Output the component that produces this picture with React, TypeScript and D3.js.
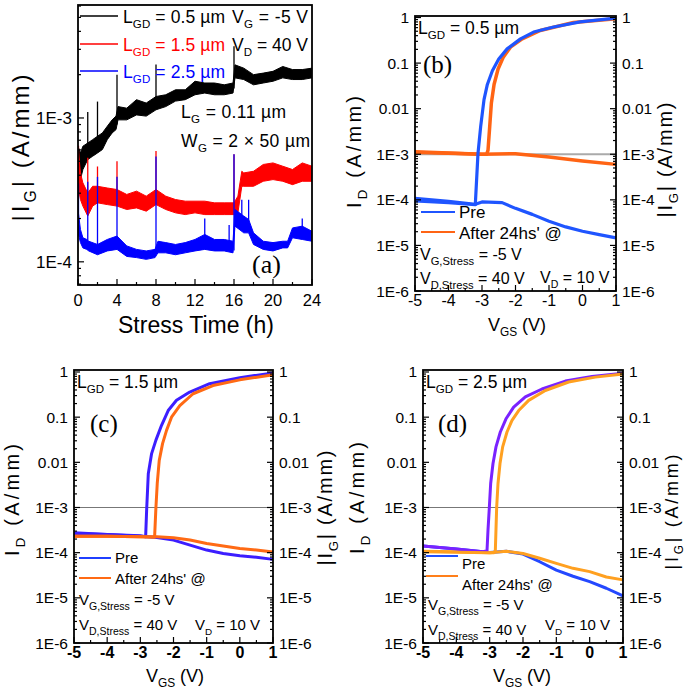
import React from "react";
import * as d3 from "d3";

const SANS = "'Liberation Sans', Arial, sans-serif";
const SERIF = "'Liberation Serif', 'Times New Roman', serif";

// ---------------- Panel (a): gate current vs stress time ----------------
const aXTicks = [0, 4, 8, 12, 16, 20, 24];
const aXMinor = [2, 6, 10, 14, 18, 22];
const aYMajor = [1e-4, 1e-3];
const aYLabels = ["1E-4", "1E-3"];

const aT05 = [0, 0.25, 0.5, 1, 1.5, 2, 2.5, 3, 3.5, 3.9, 4.1, 5, 6, 7, 8, 9, 10, 11, 12, 13, 14, 15, 15.9, 16.1, 17, 18, 19, 20, 21, 22, 23, 24];
const aLo05 = [3.35e-4, 3.73e-4, 4.38e-4, 5.14e-4, 5.42e-4, 5.71e-4, 6.03e-4, 7.07e-4, 7.87e-4, 8.3e-4, 9.7e-4, 9.7e-4, 1.05e-3, 1.03e-3, 1.14e-3, 1.2e-3, 1.31e-3, 1.34e-3, 1.45e-3, 1.49e-3, 1.45e-3, 1.45e-3, 1.49e-3, 1.9e-3, 1.85e-3, 1.7e-3, 1.75e-3, 1.8e-3, 1.9e-3, 1.85e-3, 1.85e-3, 1.9e-3];
const aHi05 = [6.36e-4, 5.71e-4, 6.36e-4, 6.7e-4, 7.07e-4, 7.46e-4, 7.87e-4, 8.75e-4, 9.7e-4, 1.03e-3, 1.2e-3, 1.17e-3, 1.34e-3, 1.27e-3, 1.41e-3, 1.45e-3, 1.57e-3, 1.57e-3, 1.8e-3, 1.75e-3, 1.75e-3, 1.7e-3, 1.75e-3, 2.34e-3, 2.22e-3, 2.0e-3, 2.05e-3, 2.11e-3, 2.28e-3, 2.17e-3, 2.17e-3, 2.22e-3];
const aSpikeT05 = [1, 2, 4, 8, 16];
const aSpikeBase05 = [6.0e-4, 6.5e-4, 9.0e-4, 1.2e-3, 1.6e-3];
const aSpikePeak05 = [1.1e-3, 1.3e-3, 2.0e-3, 2.35e-3, 3.15e-3];

const aT15 = [0, 0.25, 0.5, 1, 1.5, 2, 3, 4, 5, 6, 7, 8, 9, 10, 11, 12, 13, 14, 15, 16, 16.4, 16.8, 17, 18, 19, 20, 21, 22, 23, 24];
const aLo15 = [3.35e-4, 2.71e-4, 2.44e-4, 2.08e-4, 2.44e-4, 2.57e-4, 2.5e-4, 2.44e-4, 2.31e-4, 2.37e-4, 2.25e-4, 2.5e-4, 2.31e-4, 2.19e-4, 2.13e-4, 2.19e-4, 2.13e-4, 2.13e-4, 2.13e-4, 2.13e-4, 2.19e-4, 3.35e-4, 3.35e-4, 3.35e-4, 3.63e-4, 3.73e-4, 3.63e-4, 3.44e-4, 3.63e-4, 3.63e-4];
const aHi15 = [6.36e-4, 4.15e-4, 3.54e-4, 3.01e-4, 3.35e-4, 3.35e-4, 3.26e-4, 3.18e-4, 2.94e-4, 3.1e-4, 2.86e-4, 3.18e-4, 2.86e-4, 2.71e-4, 2.64e-4, 2.64e-4, 2.64e-4, 2.57e-4, 2.57e-4, 2.57e-4, 2.86e-4, 4.26e-4, 4.15e-4, 4.26e-4, 4.75e-4, 4.87e-4, 4.62e-4, 4.38e-4, 4.87e-4, 4.62e-4];
const aSpikeT15 = [0.05, 1, 2, 4, 8, 16];
const aSpikeBase15 = [3.0e-4, 2.3e-4, 2.7e-4, 2.6e-4, 2.6e-4, 2.3e-4];
const aSpikePeak15 = [6.4e-4, 5.3e-4, 4.6e-4, 5.0e-4, 5.9e-4, 5.6e-4];

const aT25 = [0, 0.25, 0.5, 0.9, 1.1, 2, 3, 4, 5, 6, 7, 7.9, 8.2, 9, 10, 11, 12, 13, 14, 15, 15.9, 16.1, 17, 17.5, 18, 19, 20, 21, 21.5, 22, 23, 24];
const aLo25 = [1.59e-4, 1.36e-4, 1.25e-4, 1.22e-4, 1.19e-4, 1.12e-4, 1.19e-4, 1.22e-4, 1.09e-4, 1.07e-4, 1.04e-4, 1.07e-4, 1.155e-4, 1.155e-4, 1.12e-4, 1.155e-4, 1.19e-4, 1.22e-4, 1.19e-4, 1.19e-4, 1.155e-4, 1.77e-4, 1.59e-4, 1.59e-4, 1.32e-4, 1.22e-4, 1.19e-4, 1.25e-4, 1.25e-4, 1.47e-4, 1.43e-4, 1.39e-4];
const aHi25 = [2.31e-4, 1.68e-4, 1.47e-4, 1.43e-4, 1.39e-4, 1.32e-4, 1.43e-4, 1.51e-4, 1.29e-4, 1.22e-4, 1.19e-4, 1.22e-4, 1.39e-4, 1.36e-4, 1.32e-4, 1.36e-4, 1.43e-4, 1.55e-4, 1.43e-4, 1.43e-4, 1.39e-4, 2.31e-4, 2.08e-4, 1.97e-4, 1.59e-4, 1.39e-4, 1.36e-4, 1.39e-4, 1.39e-4, 1.72e-4, 1.77e-4, 1.63e-4];
const aSpikeT25 = [0.05, 1, 2, 4, 8, 13, 15.5, 16, 16.8, 17.5, 23];
const aSpikeBase25 = [1.6e-4, 1.25e-4, 1.2e-4, 1.3e-4, 1.15e-4, 1.3e-4, 1.25e-4, 1.2e-4, 1.8e-4, 1.7e-4, 1.55e-4];
const aSpikePeak25 = [3.5e-4, 3.6e-4, 3.9e-4, 3.9e-4, 5.4e-4, 2.0e-4, 1.8e-4, 5.6e-4, 2.7e-4, 2.7e-4, 2.0e-4];

// ---------------- Transfer panels (b), (c), (d) ----------------
const ivXTicks = [-5, -4, -3, -2, -1, 0, 1];
const ivXMinor = [-4.5, -3.5, -2.5, -1.5, -0.5, 0.5];
const ivYMajor = [1e-6, 1e-5, 1e-4, 1e-3, 1e-2, 1e-1, 1];
const ivYLabels = ["1E-6", "1E-5", "1E-4", "1E-3", "0.01", "0.1", "1"];
const refLevel = 1e-3;

// (b) LGD = 0.5 um
const bPreIdV = [-5, -4, -3.2, -3.12, -3.04, -2.94, -2.84, -2.69, -2.5, -2.25, -1.85, -1.46, -0.86, -0.07, 1];
const bPreIdI = [9.5e-5, 8.7e-5, 7.8e-5, 1.03e-3, 4.05e-3, 1.58e-2, 3.4e-2, 6.8e-2, 0.123, 0.205, 0.34, 0.48, 0.62, 0.8, 0.97];
const bPreIgV = [-5, -4, -3.2, -3.0, -2.4, -2, -1.5, -1, -0.5, 0, 0.5, 1];
const bPreIgI = [1.08e-4, 9.3e-5, 8.0e-5, 9.0e-5, 8.7e-5, 6.5e-5, 4.8e-5, 3.4e-5, 2.55e-5, 2.05e-5, 1.73e-5, 1.46e-5];
const bPostIdV = [-5, -4, -3, -2.86, -2.82, -2.77, -2.72, -2.64, -2.52, -2.37, -2.15, -1.8, -1.26, -0.27, 1];
const bPostIdI = [1.1e-3, 1.05e-3, 1.0e-3, 1.0e-3, 1.23e-3, 4.05e-3, 1.34e-2, 3.4e-2, 7.4e-2, 0.133, 0.224, 0.34, 0.52, 0.78, 0.94];
const bPostIgV = [-5, -4, -3, -2, -1, 0, 1];
const bPostIgI = [1.13e-3, 1.07e-3, 1.0e-3, 1.03e-3, 8.7e-4, 7.1e-4, 6.0e-4];

// (c) LGD = 1.5 um
const cPreIdV = [-5, -4, -3, -2.84, -2.81, -2.76, -2.66, -2.53, -2.36, -2.16, -1.91, -1.51, -0.91, 0, 1];
const cPreIdI = [2.66e-4, 2.53e-4, 2.36e-4, 2.25e-4, 8.7e-4, 5.6e-3, 1.56e-2, 3.1e-2, 6.6e-2, 0.14, 0.236, 0.36, 0.55, 0.75, 0.95];
const cPostIdV = [-5, -4, -3, -2.57, -2.53, -2.49, -2.43, -2.33, -2.21, -2.06, -1.81, -1.41, -0.81, 0, 1];
const cPostIdI = [2.32e-4, 2.3e-4, 2.25e-4, 2.2e-4, 1.0e-3, 3.4e-3, 1.1e-2, 2.6e-2, 5.1e-2, 0.1, 0.18, 0.33, 0.5, 0.67, 0.87];
const cIgV = [-5, -4, -3, -2.5, -2, -1.5, -1, -0.5, 0, 0.5, 1];
const cPreIgI = [2.75e-4, 2.53e-4, 2.32e-4, 2.17e-4, 1.9e-4, 1.47e-4, 1.14e-4, 9.6e-5, 8.5e-5, 7.9e-5, 7.1e-5];
const cPostIgI = [2.32e-4, 2.32e-4, 2.25e-4, 2.25e-4, 2.14e-4, 1.9e-4, 1.6e-4, 1.4e-4, 1.24e-4, 1.14e-4, 1.03e-4];

// (d) LGD = 2.5 um
const dPreIdV = [-5, -4, -3.2, -3.08, -3.05, -3.01, -2.97, -2.9, -2.81, -2.68, -2.51, -2.28, -1.93, -1.43, -0.73, 0.07, 1];
const dPreIdI = [1.4e-4, 1.2e-4, 1.05e-4, 1.1e-4, 3.15e-4, 1.0e-3, 3.4e-3, 9.4e-3, 2.2e-2, 4.7e-2, 9.2e-2, 0.167, 0.28, 0.42, 0.63, 0.8, 0.94];
const dPostIdV = [-5, -4, -3, -2.88, -2.83, -2.79, -2.75, -2.69, -2.61, -2.48, -2.33, -2.13, -1.83, -1.33, -0.63, 0.17, 1];
const dPostIdI = [1.05e-4, 1.02e-4, 1.0e-4, 1.0e-4, 1.1e-4, 1.0e-3, 3.4e-3, 9.4e-3, 2.2e-2, 4.7e-2, 8.5e-2, 0.14, 0.235, 0.39, 0.6, 0.77, 0.9];
const dIgV = [-5, -4, -3, -2.5, -2, -1.5, -1, -0.5, 0, 0.5, 1];
const dPreIgI = [1.4e-4, 1.2e-4, 1.01e-4, 1.07e-4, 9.3e-5, 6.3e-5, 4.1e-5, 3.0e-5, 2.28e-5, 1.63e-5, 1.1e-5];
const dPostIgI = [1.08e-4, 1.05e-4, 1.0e-4, 1.07e-4, 9.6e-5, 7.5e-5, 5.8e-5, 4.5e-5, 3.8e-5, 2.9e-5, 2.5e-5];

// ---------------- helpers ----------------
type Part = [string, boolean?];

function Rich(props: {
  x: number; y: number; parts: Part[]; size: number; fill?: string; anchor?: string;
  weight?: string | number; family?: string; sub?: number; len?: number; transform?: string;
}) {
  const { x, y, parts, size, fill = "#000", anchor = "start", weight, family = SANS, sub = 0.66, len, transform } = props;
  const shift = size * 0.3;
  let prev = false;
  const kids = parts.map(([t, s], i) => {
    let dy = 0;
    if (s && !prev) dy = shift;
    if (!s && prev) dy = -shift;
    prev = !!s;
    return (
      <tspan key={i} fontSize={s ? size * sub : size} dy={dy || undefined}>
        {t}
      </tspan>
    );
  });
  return (
    <text
      x={x}
      y={y}
      fontSize={size}
      fill={fill}
      textAnchor={anchor as any}
      fontFamily={family}
      fontWeight={weight as any}
      textLength={len}
      lengthAdjust={len ? "spacing" : undefined}
      transform={transform}
      style={{ whiteSpace: "pre" }}
    >
      {kids}
    </text>
  );
}

function zip(a: number[], b: number[]) {
  return a.map((v, i) => [v, b[i]] as [number, number]);
}

function LogTicks({ y, x, dir }: { y: d3.ScaleLogarithmic<number, number>; x: number; dir: number }) {
  const ticks = y.ticks();
  return (
    <g>
      {ticks.map((t, i) => {
        const m = Math.abs(Math.log10(t) - Math.round(Math.log10(t))) < 1e-6;
        const L = m ? 6 : 3;
        return <line key={i} x1={x} x2={x + dir * L} y1={y(t)} y2={y(t)} stroke="#000" strokeWidth={1.2} />;
      })}
    </g>
  );
}

// ---------------- Panel A ----------------
function PanelA() {
  const L = 78, R = 312, T = 5, B = 285;
  const x = d3.scaleLinear().domain([0, 24]).range([L, R]);
  const y = d3.scaleLog().domain([6.9e-5, 6.1e-3]).range([B, T]);
  const series = [
    { t: aT05, lo: aLo05, hi: aHi05, st: aSpikeT05, sb: aSpikeBase05, sp: aSpikePeak05, color: "#000000" },
    { t: aT15, lo: aLo15, hi: aHi15, st: aSpikeT15, sb: aSpikeBase15, sp: aSpikePeak15, color: "#ff0000" },
    { t: aT25, lo: aLo25, hi: aHi25, st: aSpikeT25, sb: aSpikeBase25, sp: aSpikePeak25, color: "#0000ff" },
  ];
  const legend = [
    { label: "0.5", color: "#000000", ly: 16, ty: 23 },
    { label: "1.5", color: "#ff0000", ly: 44, ty: 51 },
    { label: "2.5", color: "#0000ff", ly: 71, ty: 78 },
  ];
  return (
    <g>
      <defs>
        <clipPath id="clipA">
          <rect x={L} y={T} width={R - L} height={B - T} />
        </clipPath>
      </defs>
      <g clipPath="url(#clipA)">
        {series.map((s, k) => {
          const idx = s.t.map((_, i) => i);
          const area = d3
            .area<number>()
            .x((i) => x(s.t[i]))
            .y0((i) => y(s.lo[i]))
            .y1((i) => y(s.hi[i]))
            .curve(d3.curveLinear);
          return (
            <g key={k}>
              <path d={area(idx) || ""} fill={s.color} stroke={s.color} strokeWidth={1} strokeLinejoin="round" />
              {s.st.map((tt, i) => (
                <line key={i} x1={x(tt)} x2={x(tt)} y1={y(s.sb[i])} y2={y(s.sp[i])} stroke={s.color} strokeWidth={1.3} />
              ))}
            </g>
          );
        })}
      </g>
      {/* legend */}
      {legend.map((l, i) => (
        <g key={i}>
          <line x1={80} x2={118} y1={l.ly} y2={l.ly} stroke={l.color} strokeWidth={1.5} />
          <Rich x={123} y={l.ty} size={17.5} fill={l.color} parts={[["L"], ["GD", true], [` = ${l.label} \u00b5m`]]} len={102} />
        </g>
      ))}
      <Rich x={232} y={23} size={17.5} parts={[["V"], ["G", true], [" = -5 V"]]} len={76} />
      <Rich x={232} y={51} size={17.5} parts={[["V"], ["D", true], [" = 40 V"]]} len={76} />
      <Rich x={181} y={118} size={17.5} parts={[["L"], ["G", true], [" = 0.11 \u00b5m"]]} len={105} />
      <Rich x={181} y={147} size={17.5} parts={[["W"], ["G", true], [" = 2 \u00d7 50 \u00b5m"]]} len={129} />
      <text x={252} y={273} fontFamily={SERIF} fontSize={26}>(a)</text>
      {/* axes */}
      <rect x={L} y={T} width={R - L} height={B - T} fill="none" stroke="#000" strokeWidth={1.8} />
      <LogTicks y={y} x={L} dir={1} />
      {aXTicks.map((t, i) => (
        <g key={i}>
          <line x1={x(t)} x2={x(t)} y1={B} y2={B - 6} stroke="#000" strokeWidth={1.2} />
          <text x={x(t)} y={306} fontFamily={SANS} fontSize={16.5} textAnchor="middle">{t}</text>
        </g>
      ))}
      {aXMinor.map((t, i) => (
        <line key={i} x1={x(t)} x2={x(t)} y1={B} y2={B - 3} stroke="#000" strokeWidth={1.2} />
      ))}
      {aYMajor.map((v, i) => (
        <text key={i} x={72} y={y(v) + 6} fontFamily={SANS} fontSize={17} textAnchor="end">{aYLabels[i]}</text>
      ))}
      <text x={196} y={333} fontFamily={SANS} fontSize={23} textAnchor="middle">Stress Time (h)</text>
      <Rich x={0} y={0} size={24} anchor="middle" parts={[["|I"], ["G", true], ["| (A/mm)"]]} len={147} transform="translate(29,148) rotate(-90)" />
    </g>
  );
}

// ---------------- IV panel ----------------
type Curve = { v: number[]; i: number[]; color: string; w?: number };
type IVProps = {
  L: number; R: number; T: number; B: number; top: number;
  curves: Curve[]; refColor: string; refW: number;
  lgd: string; tag: string; tagX: number; tagY: number;
  legY: [number, number]; legTextY: [number, number]; legColors: [string, string]; legX: number; legLen: number;
  stressY: [number, number]; vdX: number; vdY: number;
  boldX: boolean; leftTitleX: number; rightTitleX: number; titleY: number; rightTitleY: number;
  xTitleX: number; xTitleY: number; xLabelY: number; textSize: number; legSize: number; rightTitleSize: number;
};

function IVPanel(p: IVProps) {
  const x = d3.scaleLinear().domain([-5, 1]).range([p.L, p.R]);
  const y = d3.scaleLog().domain([1e-6, p.top]).range([p.B, p.T]);
  const line = d3
    .line<[number, number]>()
    .x((d) => x(d[0]))
    .y((d) => y(d[1]));
  const ts = p.textSize;
  return (
    <g>
      <line x1={p.L} x2={p.R} y1={y(refLevel)} y2={y(refLevel)} stroke={p.refColor} strokeWidth={p.refW} />
      {p.curves.map((c, k) => (
        <path key={k} d={line(zip(c.v, c.i)) || ""} fill="none" stroke={c.color} strokeWidth={c.w ?? 3} strokeLinejoin="round" />
      ))}
      <rect x={p.L} y={p.T} width={p.R - p.L} height={p.B - p.T} fill="none" stroke="#000" strokeWidth={1.8} />
      <LogTicks y={y} x={p.L} dir={1} />
      <LogTicks y={y} x={p.R} dir={-1} />
      {ivXTicks.map((t, i) => (
        <g key={i}>
          <line x1={x(t)} x2={x(t)} y1={p.B} y2={p.B - 6} stroke="#000" strokeWidth={1.2} />
          <text x={x(t)} y={p.xLabelY} fontFamily={SANS} fontSize={16} fontWeight={p.boldX ? "bold" : "normal"} textAnchor="middle">{t}</text>
        </g>
      ))}
      {ivXMinor.map((t, i) => (
        <line key={i} x1={x(t)} x2={x(t)} y1={p.B} y2={p.B - 3} stroke="#000" strokeWidth={1.2} />
      ))}
      {ivYMajor.map((v, i) => (
        <g key={i}>
          <text x={p.L - 6} y={y(v) + 5.5} fontFamily={SANS} fontSize={15.5} textAnchor="end">{ivYLabels[i]}</text>
          <text x={p.R + 6} y={y(v) + 5.5} fontFamily={SANS} fontSize={15.5} textAnchor="start">{ivYLabels[i]}</text>
        </g>
      ))}
      <Rich x={p.L + 3} y={p.T + 18} size={17.5} parts={[["L"], ["GD", true], [` = ${p.lgd} \u00b5m`]]} len={101} />
      <text x={p.tagX} y={p.tagY} fontFamily={SERIF} fontSize={25}>{p.tag}</text>
      <line x1={p.legX} x2={p.legX + p.legLen} y1={p.legY[0]} y2={p.legY[0]} stroke={p.legColors[0]} strokeWidth={2} />
      <line x1={p.legX} x2={p.legX + p.legLen} y1={p.legY[1]} y2={p.legY[1]} stroke={p.legColors[1]} strokeWidth={2} />
      <text x={p.legX + p.legLen + 4} y={p.legTextY[0]} fontFamily={SANS} fontSize={p.legSize}>Pre</text>
      <text x={p.legX + p.legLen + 4} y={p.legTextY[1]} fontFamily={SANS} fontSize={p.legSize}>After 24hs' @</text>
      <Rich x={p.L + 5} y={p.stressY[0]} size={ts} sub={0.7} parts={[["V"], ["G,Stress", true], [" = -5 V"]]} />
      <Rich x={p.L + 5} y={p.stressY[1]} size={ts} sub={0.7} parts={[["V"], ["D,Stress", true], [" = 40 V"]]} />
      <Rich x={p.vdX} y={p.vdY} size={ts} parts={[["V"], ["D", true], [" = 10 V"]]} />
      <Rich x={p.xTitleX} y={p.xTitleY} size={18} anchor="middle" parts={[["V"], ["GS", true], [" (V)"]]} />
      <Rich x={0} y={0} size={20} anchor="middle" parts={[["I"], ["D", true], [" (A/mm)"]]} len={112} transform={`translate(${p.leftTitleX},${p.titleY}) rotate(-90)`} />
      <Rich x={0} y={0} size={p.rightTitleSize} anchor="middle" parts={[["|I"], ["G", true], ["| (A/mm)"]]} len={115} transform={`translate(${p.rightTitleX},${p.rightTitleY}) rotate(-90)`} />
    </g>
  );
}

export default function App() {
  return (
    <svg width={687} height={698} style={{ position: "absolute", left: 0, top: 0, background: "#fff" }}>
      <rect x={0} y={0} width={687} height={698} fill="#fff" />
      <PanelA />
      <IVPanel
        L={415} R={616} T={16} B={291} top={1.08}
        curves={[
          { v: bPostIgV, i: bPostIgI, color: "#ff6414", w: 3.5 },
          { v: bPostIdV, i: bPostIdI, color: "#ff6414", w: 3.5 },
          { v: bPreIgV, i: bPreIgI, color: "#1f55ff", w: 3.2 },
          { v: bPreIdV, i: bPreIdI, color: "#1f55ff", w: 3.2 },
        ]}
        refColor="#aaaaaa" refW={2}
        lgd="0.5" tag="(b)" tagX={423} tagY={73}
        legX={421} legLen={34} legY={[212, 232]} legTextY={[218, 239]} legColors={["#1f55ff", "#ff6414"]}
        stressY={[260, 284]} vdX={540} vdY={283}
        boldX={false} leftTitleX={361} rightTitleX={672} titleY={152} rightTitleY={160}
        xTitleX={517} xTitleY={331} xLabelY={306} textSize={16} legSize={17} rightTitleSize={20}
      />
      <IVPanel
        L={74} R={273} T={370} B={643} top={1.107}
        curves={[
          { v: cIgV, i: cPreIgI, color: "#3c1eff", w: 3 },
          { v: cPreIdV, i: cPreIdI, color: "#3c1eff", w: 3 },
          { v: cIgV, i: cPostIgI, color: "#ff6a14", w: 3 },
          { v: cPostIdV, i: cPostIdI, color: "#ff6a14", w: 3 },
        ]}
        refColor="#777777" refW={1.2}
        lgd="1.5" tag="(c)" tagX={90} tagY={432}
        legX={79} legLen={32} legY={[558, 578]} legTextY={[563, 584]} legColors={["#1f3fff", "#ff6a14"]}
        stressY={[605, 630]} vdX={195} vdY={630}
        boldX={true} leftTitleX={19} rightTitleX={332} titleY={500} rightTitleY={508}
        xTitleX={175} xTitleY={682} xLabelY={658} textSize={15} legSize={15} rightTitleSize={20}
      />
      <IVPanel
        L={423} R={623} T={370} B={643} top={1.107}
        curves={[
          { v: dIgV, i: dPreIgI, color: "#2448ff", w: 3 },
          { v: dIgV, i: dPostIgI, color: "#ffa020", w: 3 },
          { v: dPreIdV, i: dPreIdI, color: "#7a22ff", w: 3 },
          { v: dPostIdV, i: dPostIdI, color: "#ffa020", w: 3 },
        ]}
        refColor="#777777" refW={1.2}
        lgd="2.5" tag="(d)" tagX={438} tagY={432}
        legX={426} legLen={32} legY={[556, 576]} legTextY={[569, 590]} legColors={["#2050ff", "#ff7f1a"]}
        stressY={[610, 635]} vdX={545} vdY={630}
        boldX={true} leftTitleX={364} rightTitleX={678} titleY={498} rightTitleY={512}
        xTitleX={522} xTitleY={682} xLabelY={658} textSize={15} legSize={15} rightTitleSize={18}
      />
    </svg>
  );
}
